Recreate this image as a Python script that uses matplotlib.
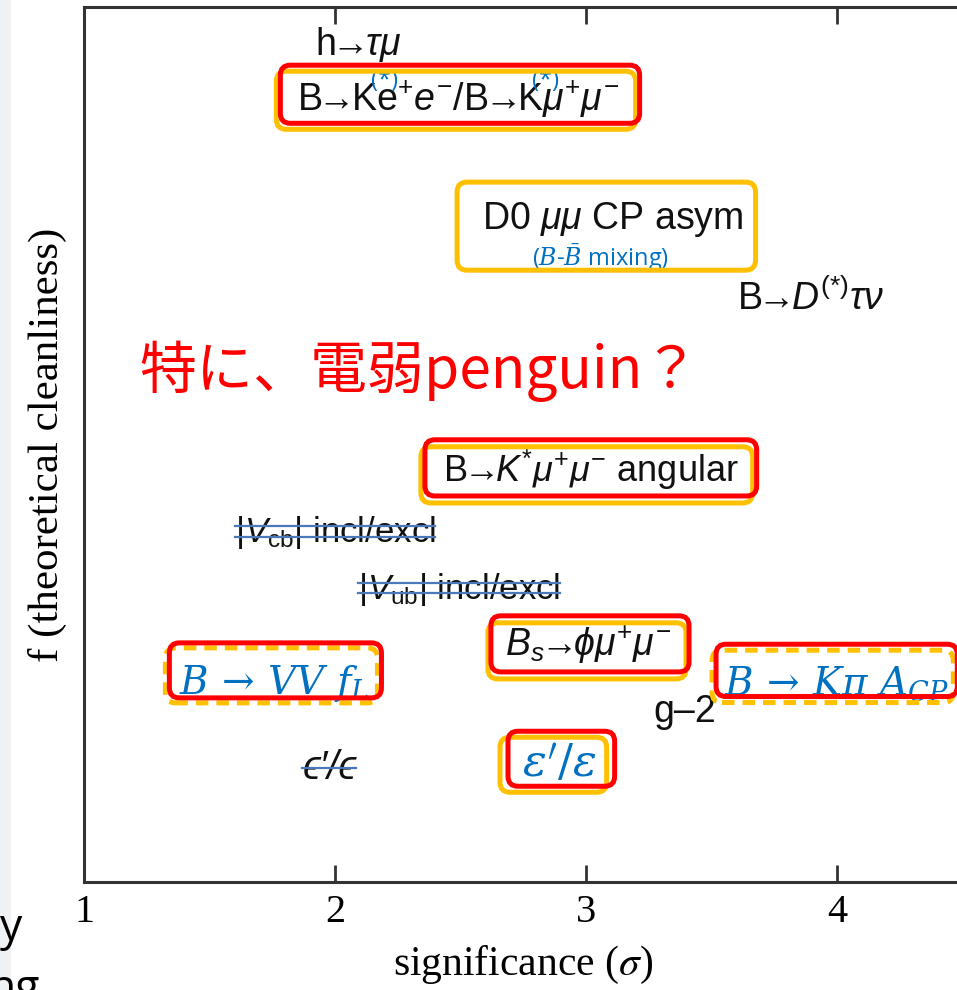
import numpy as np
import matplotlib.pyplot as plt
from matplotlib.patches import FancyBboxPatch, Rectangle
from matplotlib.transforms import IdentityTransform
from matplotlib.lines import Line2D

plt.rcParams['mathtext.fontset'] = 'custom'
plt.rcParams['mathtext.rm'] = 'Liberation Sans'
plt.rcParams['mathtext.it'] = 'Liberation Sans:italic'
plt.rcParams['mathtext.bf'] = 'Liberation Sans:bold'

# anomalies: significance (sigma) vs theoretical cleanliness
labels = [r'h$\!\!\rightarrow\!\!\tau\mu$',
          r'B$\!\!\rightarrow\!\!$Ke$^{+}e^{-}$/B$\!\!\rightarrow\!\!$K$\mu^{+}\mu^{-}$',
          r'D0 $\mu\mu$ CP asym',
          r'B$\!\!\rightarrow\!\!D^{(*)}\tau\nu$',
          r'B$\!\!\rightarrow\!\!K^{*}\mu^{+}\mu^{-}$ angular',
          r'|$V_{\mathrm{cb}}$| incl/excl',
          r'|$V_{\mathrm{ub}}$| incl/excl',
          r'$B_{s}\!\!\rightarrow\!\!\phi\mu^{+}\mu^{-}$',
          'g–2',
          'ϵ′/ϵ']
sig = [1.92, 1.85, 2.586, 3.60, 2.43, 1.60, 2.09, 2.677, 3.27, 1.87]
clean = [0.957, 0.894, 0.757, 0.667, 0.471, 0.399, 0.334, 0.271, 0.194, 0.130]

# added (blue) entries
blue_labels = [r'$B\,\rightarrow\,VV\ f_L$', r'$B\,\rightarrow\,K\pi\ A_{CP}$', r"$\varepsilon'/\varepsilon$"]
blue_sig = [1.38, 3.55, 2.745]
blue_clean = [0.227, 0.227, 0.134]

star_sig = [2.199, 2.837]
star_clean = [0.915, 0.915]
sub_label = r'($B$-$\bar{B}$ mixing)'
sub_pos = (3.056, 0.713)
note = '特に、電弱penguin？'
note_pos = (1.22, 0.584)

# per-label font tweaks
size = {'L4': 26, 'L5': 25, 'L6': 25, 'L9': 29, 'B0': 28, 'B1': 28, 'B2': 32}

# (which labels, red frame, dashed orange, pad left/right/bottom/top, orange shift)
frames = [
    (['L1'], True, False, (17, 20, 3, 14), (-4, -6)),
    (['L2', 'S'], False, False, (25, 12, -4, 18), (0, 0)),
    (['L4'], True, False, (18, 18, 4, 8), (-4, -7)),
    (['L7'], True, False, (14, 18, 6, 8), (-3, -7)),
    (['B0'], True, True, (10, 12, -6, 20), (-4, -5)),
    (['B1'], True, True, (8, 8, -6, 20), (-4, -6)),
    (['B2'], True, False, (14, 18, 0, 12), (-8, -6)),
]
struck = {'L5': 2, 'L6': 2, 'L9': 1}

fig = plt.figure(figsize=(9.57, 9.9), dpi=100)
ax = fig.add_axes([84 / 957, 108 / 990, 878.5 / 957, 875 / 990])
ax.set_xlim(1, 4.5)
ax.set_ylim(0, 1)
ax.set_xticks([1, 2, 3, 4])
ax.set_xticklabels(['1', '2', '3', '4'], family='Liberation Serif', fontsize=29)
ax.set_yticks([])
ax.tick_params(axis='x', direction='in', length=12, width=2, top=True, pad=9, color='#333333')
for s in ax.spines.values():
    s.set_linewidth(2.2)
    s.set_color('#333333')
ax.spines['right'].set_visible(False)
ax.set_xlabel(r'significance ($\sigma$)', family='Liberation Serif', fontsize=30,
              math_fontfamily='stix', labelpad=9)
ax.set_ylabel('f (theoretical cleanliness)', family='Liberation Serif', fontsize=31, labelpad=12)

arts = {}
for i, (t, x, y) in enumerate(zip(labels, sig, clean)):
    k = 'L%d' % i
    arts[k] = ax.text(x, y, t, ha='left', va='center', fontsize=size.get(k, 27),
                      style='italic' if k == 'L9' else 'normal',
                      family=['Liberation Sans', 'DejaVu Sans'], color='#111111')
for i, (t, x, y) in enumerate(zip(blue_labels, blue_sig, blue_clean)):
    k = 'B%d' % i
    arts[k] = ax.text(x, y, t, ha='left', va='center', fontsize=size[k],
                      color='#0070C0', math_fontfamily='dejavuserif', clip_on=False)
for x, y in zip(star_sig, star_clean):
    ax.text(x, y, '(*)', ha='center', va='center', fontsize=17, color='#0070C0',
            family='Open Sans')
arts['S'] = ax.text(sub_pos[0], sub_pos[1], sub_label, ha='center', va='center', fontsize=17,
                    color='#0070C0', family='Open Sans', math_fontfamily='dejavuserif')
ax.text(note_pos[0], note_pos[1], note, ha='left', va='center', fontsize=41, color='#FF0000',
        family=['Noto Sans CJK JP', 'DejaVu Sans'])

fig.text(0.0, 0.062, 'y', fontsize=32, family='Open Sans', va='center', ha='left')
fig.text(-0.012, 0.0, 'ng', fontsize=32, family='Open Sans', va='center', ha='left')
fig.add_artist(Rectangle((0, 0), 0.012, 1, transform=fig.transFigure, color='#EEF2F5', lw=0, zorder=0))

fig.canvas.draw()
r = fig.canvas.get_renderer()

# strike-through lines over the dropped items
for key, n in struck.items():
    bb = arts[key].get_window_extent(r)
    fr = [0.5] if n == 1 else [0.4, 0.68]
    for f in fr:
        yy = bb.y0 + f * bb.height
        fig.add_artist(Line2D([bb.x0, bb.x1], [yy, yy], transform=IdentityTransform(),
                              color='#4A78B8', lw=1.6))

# rounded highlight frames around label extents
for keys, red, dashed, (pl, pr, pb, pt), (dx, dy) in frames:
    bbs = [arts[k].get_window_extent(r) for k in keys]
    x0 = min(b.x0 for b in bbs) - pl
    x1 = max(b.x1 for b in bbs) + pr
    y0 = min(b.y0 for b in bbs) - pb
    y1 = max(b.y1 for b in bbs) + pt
    orange = FancyBboxPatch((x0 + dx, y0 + dy), x1 - x0, y1 - y0,
                            boxstyle='round,pad=0,rounding_size=10',
                            transform=IdentityTransform(), fc='none', ec='#FFC000',
                            lw=3.6, ls=(0, (2.5, 1.6)) if dashed else '-', zorder=5)
    fig.add_artist(orange)
    if red:
        fig.add_artist(FancyBboxPatch((x0, y0), x1 - x0, y1 - y0,
                                      boxstyle='round,pad=0,rounding_size=10',
                                      transform=IdentityTransform(), fc='none', ec='#FF0000',
                                      lw=3.6, zorder=6))

fig.savefig('out.png', dpi=100)
